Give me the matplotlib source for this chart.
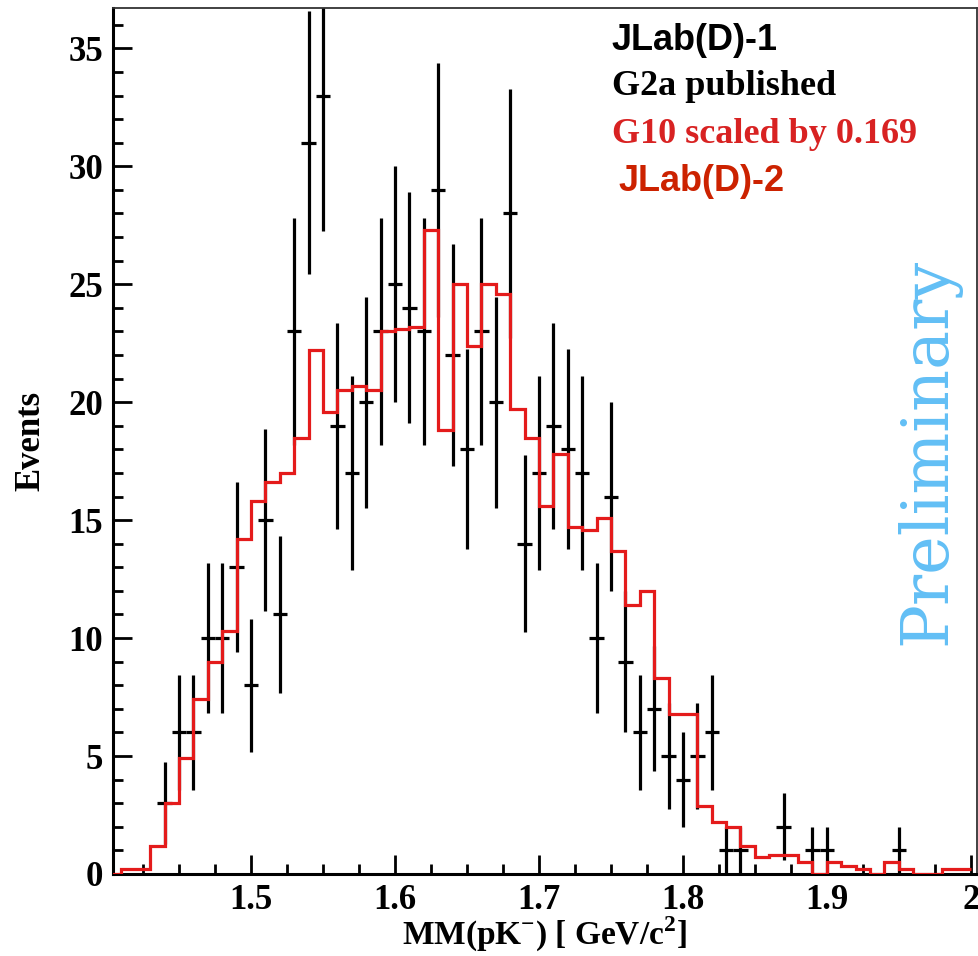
#!/usr/bin/env python3
import numpy as np
import matplotlib
matplotlib.use("Agg")
import matplotlib.pyplot as plt
import matplotlib.ticker as mticker

# G2a published : bin center [GeV/c^2] and events
g2a_mass = [1.44, 1.45, 1.46, 1.47, 1.48, 1.49, 1.50, 1.51, 1.52, 1.53,
            1.54, 1.55, 1.56, 1.57, 1.58, 1.59, 1.60, 1.61, 1.62, 1.63,
            1.64, 1.65, 1.66, 1.67, 1.68, 1.69, 1.70, 1.71, 1.72, 1.73,
            1.74, 1.75, 1.76, 1.77, 1.78, 1.79, 1.80, 1.81, 1.82, 1.83,
            1.84, 1.87, 1.89, 1.90, 1.95]
g2a_counts = [3, 6, 6, 10, 10, 13, 8, 15, 11, 23,
              31, 33, 19, 17, 20, 23, 25, 24, 23, 29,
              22, 18, 23, 20, 28, 14, 17, 19, 18, 17,
              10, 16, 9, 6, 7, 5, 4, 5, 6, 1,
              1, 2, 1, 1, 1]

# G10 scaled by 0.169 : histogram from 1.40 with 0.01 bins
g10_start = 1.40
g10_width = 0.01
g10_values = [0.0, 0.2, 0.2, 1.2, 3.0, 4.9, 7.4, 9.0, 10.3, 14.2,
              15.8, 16.6, 17.0, 18.5, 22.2, 19.6, 20.5, 20.7, 20.5, 23.0,
              23.1, 23.2, 27.3, 18.8, 25.0, 22.4, 25.0, 24.6, 19.7, 18.5,
              15.6, 17.8, 14.7, 14.6, 15.1, 13.7, 11.4, 12.0, 8.3, 6.8,
              6.8, 2.9, 2.2, 2.0, 1.2, 0.7, 0.8, 0.8, 0.5, 0.0,
              0.5, 0.35, 0.2, 0.0, 0.5, 0.2, 0.0, 0.0, 0.2, 0.2]

x_ticks = [1.5, 1.6, 1.7, 1.8, 1.9, 2.0]
x_ticklabels = ["1.5", "1.6", "1.7", "1.8", "1.9", "2"]

serif = "Liberation Serif"
sans = "Liberation Sans"

plt.rcParams['mathtext.fontset'] = 'custom'
plt.rcParams['mathtext.rm'] = serif
plt.rcParams['mathtext.bf'] = serif + ':bold'


def draw(output_filename="out.png"):
    fig = plt.figure(figsize=(9.79, 9.56), dpi=100)
    ax = fig.add_axes((0.1151, 0.0858, 0.8825, 0.9056))

    # red histogram (G10)
    edges = g10_start + g10_width * np.arange(len(g10_values) + 1)
    ax.stairs(g10_values, edges, color='#e41b1b', linewidth=2.3,
              baseline=None, zorder=3)

    # black data points with sqrt(N) errors (G2a)
    cnt = np.array(g2a_counts, dtype=float)
    ax.errorbar(g2a_mass, cnt, yerr=np.sqrt(cnt), xerr=g10_width / 2,
                fmt='none', ecolor='k', elinewidth=2.3, capsize=0, zorder=2)

    ax.set_xlim(1.404, 2.004)
    ax.set_ylim(0, 36.7)

    # 軸の目盛り
    ax.xaxis.set_major_locator(mticker.FixedLocator(x_ticks))
    ax.xaxis.set_minor_locator(mticker.MultipleLocator(0.025))
    ax.set_xticklabels(x_ticklabels)
    ax.yaxis.set_major_locator(mticker.MultipleLocator(5))
    ax.yaxis.set_minor_locator(mticker.MultipleLocator(1))
    ax.tick_params(which='both', direction='in', top=False, right=False)
    ax.tick_params(which='major', length=14, width=2)
    ax.tick_params(which='minor', length=7, width=2)
    ax.tick_params(axis='x', which='major', pad=7)
    ax.tick_params(axis='y', which='major', pad=7)
    for lab in ax.get_xticklabels() + ax.get_yticklabels():
        lab.set_fontfamily(serif)
        lab.set_fontweight('bold')
        lab.set_fontsize(25)

    for side in ['left', 'bottom']:
        ax.spines[side].set_linewidth(2.2)
    for side in ['top', 'right']:
        ax.spines[side].set_linewidth(1.3)
        ax.spines[side].set_color('#333333')

    # 軸ラベル
    ax.set_xlabel(r"MM(pK$^{\mathbf{-}}$) [ GeV/c$^{\mathbf{2}}$]",
                  fontfamily=serif, fontweight='bold', fontsize=24)
    ax.xaxis.set_label_coords(0.5, -0.047)
    ax.set_ylabel("Events", fontfamily=serif, fontweight='bold', fontsize=25)
    ax.yaxis.set_label_coords(-0.076, 0.5)

    # 凡例代わりのテキスト
    ax.text(0.5775, 0.9518, "JLab(D)-1", transform=ax.transAxes,
            fontfamily=sans, fontweight='bold', fontsize=26, color='k',
            va='baseline', ha='left')
    ax.text(0.5775, 0.900, "G2a published", transform=ax.transAxes,
            fontfamily=serif, fontweight='bold', fontsize=26, color='k',
            va='baseline', ha='left')
    ax.text(0.5775, 0.8445, "G10 scaled by 0.169", transform=ax.transAxes,
            fontfamily=serif, fontweight='bold', fontsize=26,
            color='#d82222', va='baseline', ha='left')
    ax.text(0.585, 0.7888, "JLab(D)-2", transform=ax.transAxes,
            fontfamily=sans, fontweight='bold', fontsize=26,
            color='#cc2200', va='baseline', ha='left')

    # Preliminary
    ax.text(0.9633, 0.4878, "Preliminary", transform=ax.transAxes,
            fontfamily='DejaVu Serif', fontsize=47, color='#62bff5',
            rotation=90, rotation_mode='anchor', ha='center', va='baseline')

    fig.savefig(output_filename, dpi=100, facecolor='white')
    plt.close(fig)


if __name__ == '__main__':
    draw("out.png")
